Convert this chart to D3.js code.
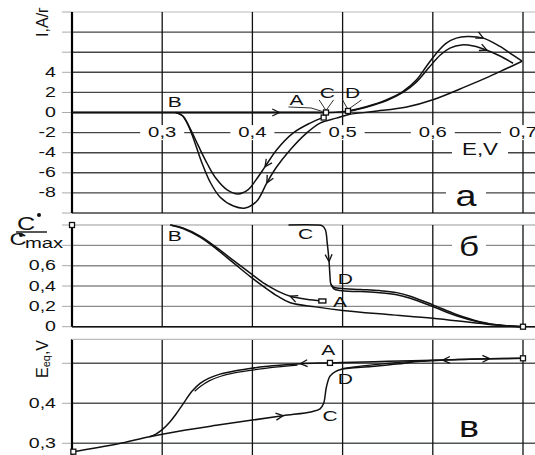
<!DOCTYPE html>
<html><head><meta charset="utf-8">
<script src="https://cdn.jsdelivr.net/npm/d3@7"></script>
<style>body{margin:0;background:#fff}svg{display:block}text{font-family:"Liberation Sans",Arial,sans-serif;fill:#111}</style>
</head><body><svg id="chart" width="535" height="455"></svg>
<script>
// ---- shared potential axis ----
const potentialTicks = [0.3, 0.4, 0.5, 0.6, 0.7];
const potentialTickLabels = ["0,3", "0,4", "0,5", "0,6", "0,7"];

// ---- panel а : current, A/г ----
const currentGrid = [-10, -8, -6, -4, -2, 0, 2, 4, 6, 8, 10];
const currentTickValues = [4, 2, 0, -2, -4, -6, -8];
const currentTickLabels = ["4", "2", "0", "-2", "-4", "-6", "-8"];
const zeroLine = [[0.2, 0], [0.315, 0], [0.43, 0], [0.482, 0]];
const anodicUpper = [[0.482, 0.0], [0.495, 0.05], [0.506, 0.15], [0.527, 0.6], [0.549, 1.28], [0.567, 2.1], [0.582, 3.25], [0.593, 4.6], [0.604, 5.9], [0.615, 6.9], [0.626, 7.4], [0.638, 7.56], [0.656, 7.4], [0.674, 6.6], [0.689, 5.7], [0.699, 5.1]];
const anodicLower = [[0.506, 0.1], [0.527, 0.55], [0.549, 1.2], [0.567, 2.0], [0.582, 3.05], [0.596, 4.5], [0.608, 5.7], [0.619, 6.4], [0.632, 6.72], [0.645, 6.62], [0.66, 6.2], [0.674, 5.65], [0.689, 4.9]];
const returnOuter = [[0.699, 5.1], [0.68, 4.3], [0.663, 3.6], [0.637, 2.6], [0.601, 1.3], [0.571, 0.55], [0.534, 0.1], [0.506, -0.22], [0.493, -0.56], [0.475, -1.05], [0.46, -2.05], [0.442, -3.7], [0.427, -5.4], [0.416, -7.0], [0.405, -8.8], [0.392, -9.5], [0.379, -9.3], [0.364, -8.4], [0.353, -6.9], [0.344, -5.0], [0.337, -3.2], [0.329, -1.3], [0.322, -0.3], [0.315, 0]];
const cathodicInner = [[0.479, -0.46], [0.464, -1.05], [0.445, -2.05], [0.427, -3.7], [0.414, -5.4], [0.404, -6.7], [0.395, -7.7], [0.384, -8.1], [0.372, -7.7], [0.36, -6.6], [0.35, -5.1], [0.34, -3.3], [0.331, -1.6], [0.323, -0.35], [0.315, 0]];
const currentPoints = [[0.479, -0.5], [0.4816, 0], [0.506, 0.15]];
const currentLetters = [["B", 0.314, 1.05], ["A", 0.449, 1.25], ["C", 0.483, 1.95], ["D", 0.511, 1.95]];

// ---- panel б : relative concentration ----
const concGrid = [0, 0.2, 0.4, 0.6, 0.8, 1.0];
const concTickValues = [0.6, 0.4, 0.2, 0];
const concTickLabels = ["0,6", "0,4", "0,2", "0"];
const concLowerLoop = [[0.7, 0], [0.66, 0.025], [0.6, 0.083], [0.55, 0.12], [0.5, 0.16], [0.47, 0.195], [0.442, 0.236], [0.428, 0.3], [0.414, 0.385], [0.398, 0.49], [0.38, 0.62], [0.36, 0.765], [0.342, 0.88], [0.323, 0.965], [0.309, 1.0]];
const concUpperToA = [[0.309, 1.0], [0.323, 0.97], [0.342, 0.89], [0.36, 0.78], [0.38, 0.645], [0.398, 0.525], [0.414, 0.42], [0.428, 0.35], [0.442, 0.3], [0.46, 0.27], [0.477, 0.253]];
const concDrop = [[0.44, 1.0], [0.47, 1.0], [0.478, 0.99], [0.481, 0.95], [0.483, 0.82], [0.485, 0.64], [0.486, 0.5], [0.487, 0.42], [0.49, 0.39], [0.497, 0.377], [0.52, 0.366], [0.541, 0.355], [0.56, 0.335], [0.575, 0.3], [0.6, 0.215], [0.627, 0.118], [0.652, 0.05], [0.678, 0.012], [0.7, 0]];
const concDropTwin = [[0.487, 0.42], [0.49, 0.375], [0.497, 0.355], [0.52, 0.345], [0.541, 0.334], [0.56, 0.314], [0.575, 0.28], [0.6, 0.198], [0.627, 0.105], [0.652, 0.044], [0.678, 0.01], [0.7, 0]];
const concPoints = [[0.2, 1.0], [0.7, 0]];
const concLetters = [["B", 0.314, 0.89], ["C", 0.459, 0.91], ["D", 0.503, 0.47], ["A", 0.497, 0.24]];

// ---- panel в : equilibrium potential, V ----
const eqGrid = [0.3, 0.4, 0.5];
const eqTickValues = [0.4, 0.3];
const eqTickLabels = ["0,4", "0,3"];
const eqLower = [[0.2015, 0.279], [0.25, 0.298], [0.286, 0.3165], [0.32, 0.331], [0.36, 0.345], [0.4, 0.358], [0.434, 0.369], [0.466, 0.379], [0.475, 0.386], [0.479, 0.4], [0.482, 0.44], [0.486, 0.468], [0.492, 0.479], [0.499, 0.485], [0.532, 0.492], [0.56, 0.498], [0.586, 0.505], [0.62, 0.509], [0.663, 0.5115], [0.7, 0.5125]];
const eqUpper = [[0.7, 0.5125], [0.65, 0.511], [0.611, 0.508], [0.55, 0.505], [0.5, 0.502], [0.486, 0.501], [0.453, 0.499], [0.434, 0.496], [0.414, 0.492], [0.397, 0.487], [0.38, 0.481], [0.364, 0.473], [0.352, 0.463], [0.342, 0.45], [0.333, 0.43], [0.323, 0.398], [0.315, 0.372], [0.308, 0.352], [0.3, 0.334], [0.293, 0.323], [0.286, 0.3165]];
const eqUpperTwin = [[0.45, 0.4955], [0.42, 0.489], [0.4, 0.483], [0.38, 0.476], [0.364, 0.467], [0.352, 0.456], [0.343, 0.443], [0.336, 0.43]];
const eqDTwin = [[0.499, 0.487], [0.52, 0.493], [0.55, 0.5], [0.58, 0.505], [0.61, 0.5075]];
const eqPoints = [[0.2015, 0.279], [0.486, 0.501], [0.7, 0.5125]];
const eqLetters = [["A", 0.484, 0.532], ["D", 0.503, 0.461], ["C", 0.486, 0.368]];

const svg = d3.select("#chart");
const x = d3.scaleLinear().domain([0.2, 0.7]).range([72, 523]);
const yA = d3.scaleLinear().domain([-10, 10]).range([213, 12]);
const yB = d3.scaleLinear().domain([0, 1]).range([326.7, 225]);
const yC = d3.scaleLinear().domain([0.27, 0.56]).range([455.3, 339.3]);

// horizontally widened text, as in the original typesetting
function wideText(g, px, py, str, size, sx, anchor) {
  const t = g.append("g").attr("transform", `translate(${px},${py}) scale(${sx},1)`);
  return t.append("text").attr("text-anchor", anchor || "middle")
    .attr("dominant-baseline", "central").attr("font-size", size).text(str);
}

function drawFrame(y, grid, top, bottom, gridColor, topColor, tickVals, tickLabels) {
  const g = svg.append("g");
  grid.forEach(v => {
    const py = y(v);
    const isTop = Math.abs(py - top) < 1;
    g.append("line").attr("x1", 72).attr("x2", 535).attr("y1", py).attr("y2", py)
      .attr("stroke", isTop ? topColor : gridColor).attr("stroke-width", isTop ? 1.2 : 1.4);
    g.append("line").attr("x1", 62).attr("x2", 72).attr("y1", py).attr("y2", py)
      .attr("stroke", "#aaa").attr("stroke-width", 1);
  });
  potentialTicks.forEach(v => {
    g.append("line").attr("x1", x(v)).attr("x2", x(v)).attr("y1", top).attr("y2", bottom)
      .attr("stroke", "#111").attr("stroke-width", 1.3);
  });
  g.append("line").attr("x1", 72).attr("x2", 72).attr("y1", top).attr("y2", bottom)
    .attr("stroke", "#000").attr("stroke-width", 2.2);
  tickVals.forEach((v, i) => wideText(g, 56, y(v), tickLabels[i], 14, 1.4, "end"));
  return g;
}

const line = (y) => d3.line().x(d => x(d[0])).y(d => y(d[1])).curve(d3.curveCatmullRom.alpha(0.5));

function drawCurve(data, y, width) {
  svg.append("path").datum(data).attr("d", line(y)).attr("fill", "none")
    .attr("stroke", "#111").attr("stroke-width", width || 1.5).attr("stroke-linejoin", "round");
}

function arrowAt(data, y, e, dir) {
  const i = data.findIndex(d => d[0] === e);
  const p = data[i], q = data[i + dir];
  const px = x(p[0]), py = y(p[1]);
  let ux = x(q[0]) - px, uy = y(q[1]) - py;
  const len = Math.hypot(ux, uy); ux /= len; uy /= len;
  [0.45, -0.45].forEach(a => {
    const rx = ux * Math.cos(a) - uy * Math.sin(a), ry = ux * Math.sin(a) + uy * Math.cos(a);
    svg.append("line").attr("x1", px).attr("y1", py).attr("x2", px - rx * 8).attr("y2", py - ry * 8)
      .attr("stroke", "#111").attr("stroke-width", 1.3);
  });
}

function squares(points, y, w, h) {
  svg.selectAll(null).data(points).enter().append("rect")
    .attr("x", d => x(d[0]) - w / 2).attr("y", d => y(d[1]) - h / 2)
    .attr("width", w).attr("height", h).attr("fill", "#fff").attr("stroke", "#111").attr("stroke-width", 1.3);
}

function letters(list, y) {
  list.forEach(d => wideText(svg, x(d[1]), y(d[2]), d[0], 14, 1.5));
}

function boxedText(px, py, str, size, sx, bw, bh) {
  svg.append("rect").attr("x", px - bw / 2).attr("y", py - bh / 2).attr("width", bw).attr("height", bh).attr("fill", "#fff");
  wideText(svg, px, py, str, size, sx);
}

// ===== panel а =====
drawFrame(yA, currentGrid, 12, 213, "#444", "#bbb", currentTickValues, currentTickLabels);
potentialTicks.forEach((v, i) => boxedText(x(v), yA(-2), potentialTickLabels[i], 14, 1.45, 44, 15));
drawCurve(zeroLine, yA, 2);
drawCurve(cathodicInner, yA);
drawCurve(returnOuter, yA);
drawCurve(anodicUpper, yA);
drawCurve(anodicLower, yA);
arrowAt(zeroLine, yA, 0.43, 1);
arrowAt(anodicUpper, yA, 0.656, 1);
arrowAt(anodicLower, yA, 0.66, 1);
arrowAt(cathodicInner, yA, 0.414, 1);
arrowAt(returnOuter, yA, 0.416, 1);
// leader strokes from the letters to the marked points
svg.append("path").attr("fill", "none").attr("stroke", "#333").attr("stroke-width", 1)
  .attr("d", d3.line()([[x(0.44), yA(0.55)], [x(0.465), yA(0.45)], [x(0.478), yA(0.1)]]));
svg.append("path").attr("fill", "none").attr("stroke", "#333").attr("stroke-width", 1)
  .attr("d", d3.line()([[x(0.474), yA(1.25)], [x(0.4816), yA(0.2)], [x(0.49), yA(1.25)]]));
svg.append("path").attr("fill", "none").attr("stroke", "#333").attr("stroke-width", 1)
  .attr("d", d3.line()([[x(0.5), yA(1.25)], [x(0.506), yA(0.3)], [x(0.521), yA(1.25)]]));
squares(currentPoints, yA, 5, 5);
letters(currentLetters, yA);
boxedText(480, 149, "E,V", 16, 1.4, 56, 16);
boxedText(466, 196, "а", 29, 1.3, 40, 24);
svg.append("g").attr("transform", "translate(42,22) rotate(-90)")
  .append("text").attr("text-anchor", "middle").attr("dominant-baseline", "central")
  .attr("font-size", 16).text("I,A/г");

// ===== panel б =====
drawFrame(yB, concGrid, 225, 326.7, "#8a8a8a", "#999", concTickValues, concTickLabels);
svg.append("line").attr("x1", 72).attr("x2", 535).attr("y1", yB(0)).attr("y2", yB(0)).attr("stroke", "#111").attr("stroke-width", 1.5);
drawCurve(concLowerLoop, yB);
drawCurve(concUpperToA, yB);
drawCurve(concDrop, yB);
drawCurve(concDropTwin, yB);
arrowAt(concDrop, yB, 0.485, 1);
arrowAt(concUpperToA, yB, 0.442, -1);
squares(concPoints, yB, 5, 5);
svg.append("rect").attr("x", x(0.477) - 3).attr("y", yB(0.253) - 2).attr("width", 7).attr("height", 4)
  .attr("fill", "#fff").attr("stroke", "#111").attr("stroke-width", 1.4);
letters(concLetters, yB);
boxedText(469, 247, "б", 27, 1.3, 34, 12);
// fraction label C•/C•max
wideText(svg, 26, 224, "C", 18, 1.4);
svg.append("circle").attr("cx", 39).attr("cy", 215).attr("r", 2).attr("fill", "#111");
svg.append("line").attr("x1", 16).attr("x2", 47).attr("y1", 232).attr("y2", 232).attr("stroke", "#111").attr("stroke-width", 1.4);
wideText(svg, 18, 239, "C", 17, 1.4);
svg.append("circle").attr("cx", 21).attr("cy", 235).attr("r", 2).attr("fill", "#111");
wideText(svg, 44, 243, "max", 15, 1.35);

// ===== panel в =====
drawFrame(yC, eqGrid, 339.3, 455, "#555", "#bbb", eqTickValues, eqTickLabels);
svg.append("line").attr("x1", 72).attr("x2", 535).attr("y1", 339.3).attr("y2", 339.3).attr("stroke", "#bbb").attr("stroke-width", 1.2);
drawCurve(eqLower, yC);
drawCurve(eqUpper, yC);
drawCurve(eqUpperTwin, yC, 1.2);
drawCurve(eqDTwin, yC, 1.2);
arrowAt(eqUpper, yC, 0.453, 1);
arrowAt(eqUpper, yC, 0.611, 1);
arrowAt(eqLower, yC, 0.434, 1);
arrowAt(eqLower, yC, 0.663, 1);
squares(eqPoints, yC, 5, 5);
letters(eqLetters, yC);
wideText(svg, 469, 427, "в", 29, 1.3);
const eqLabel = svg.append("g").attr("transform", "translate(42,359) rotate(-90)")
  .append("text").attr("text-anchor", "middle").attr("dominant-baseline", "central").attr("font-size", 16);
eqLabel.append("tspan").text("E");
eqLabel.append("tspan").attr("font-size", 11).attr("dy", 4).text("eq");
eqLabel.append("tspan").attr("dy", -4).text(",V");
</script></body></html>
